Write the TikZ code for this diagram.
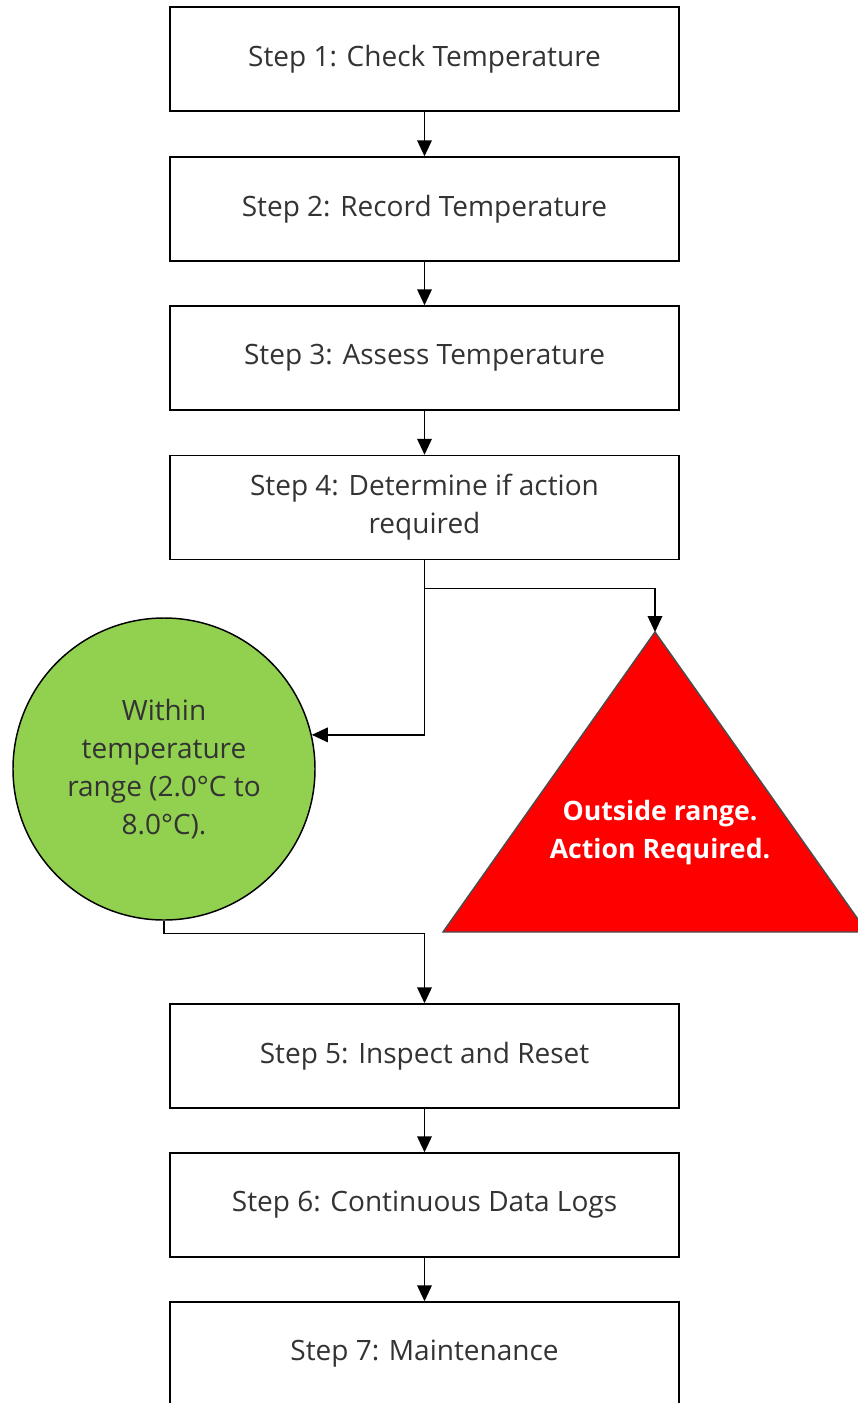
\documentclass[tikz,border=0pt]{standalone}
\usepackage{fontspec}
\setmainfont{Open Sans}
\usepackage{tikz}
\usetikzlibrary{arrows.meta,positioning,calc}
\definecolor{rangeGreen}{RGB}{146, 208, 80}
\definecolor{alertRed}{RGB}{255, 0, 0}
\definecolor{textGrey}{RGB}{51, 51, 51}
\tikzset{
  stepbox/.style={draw, line width=1.1pt, fill=white, minimum width=381.75pt, minimum height=78pt,
    align=center, font=\fontsize{21}{28.5}\selectfont, text=textGrey},
  flow/.style={draw, line width=1.1pt, -{Triangle[length=12pt,width=11pt]}}
}
\begin{document}
\begin{tikzpicture}[x=0.75pt,y=-0.75pt]
  \useasboundingbox (0,0) rectangle (857,1403);
  \fill[white] (0,0) rectangle (857,1403);

  % Steps 1 to 4
  \node[stepbox] (step1) at (424.5,59) {Step 1: Check Temperature};
  \node[stepbox] (step2) at (424.5,209) {Step 2: Record Temperature};
  \node[stepbox] (step3) at (424.5,358) {Step 3: Assess Temperature};
  \node[stepbox] (step4) at (424.5,507.5) {Step 4: Determine if action\\required};

  % Outcomes
  \node[circle, draw, line width=1.1pt, fill=rangeGreen, minimum size=226.5pt, inner sep=0pt,
    align=center, font=\fontsize{21}{28.5}\selectfont, text=textGrey]
    (within) at (164,769) {Within\\temperature\\range (2.0°C to\\8.0°C).};
  \coordinate (apex) at (655,632);
  \coordinate (baseL) at (443,932);
  \coordinate (baseR) at (867,932);
  \filldraw[fill=alertRed, draw=black!70, line width=1.1pt] (apex) -- (baseL) -- (baseR) -- cycle;
  \node[align=center, text=white, font=\bfseries\fontsize{20}{28.5}\selectfont]
    (outside) at (660,833) {Outside range.\\Action Required.};

  % Steps 5 to 7
  \node[stepbox] (step5) at (424.5,1056) {Step 5: Inspect and Reset};
  \node[stepbox] (step6) at (424.5,1205) {Step 6: Continuous Data Logs};
  \node[stepbox] (step7) at (424.5,1354) {Step 7: Maintenance};

  % Connectors
  \draw[flow] (step1) -- (step2);
  \draw[flow] (step2) -- (step3);
  \draw[flow] (step3) -- (step4);
  \coordinate (split) at ($(step4.south)+(0,28)$);
  \draw[flow] (step4.south) |- (within.13);
  \draw[flow] (split) -| (apex);
  \draw[flow] (within.south) -- ++(0,13) -| (step5.north);
  \draw[flow] (step5) -- (step6);
  \draw[flow] (step6) -- (step7);
\end{tikzpicture}
\end{document}
